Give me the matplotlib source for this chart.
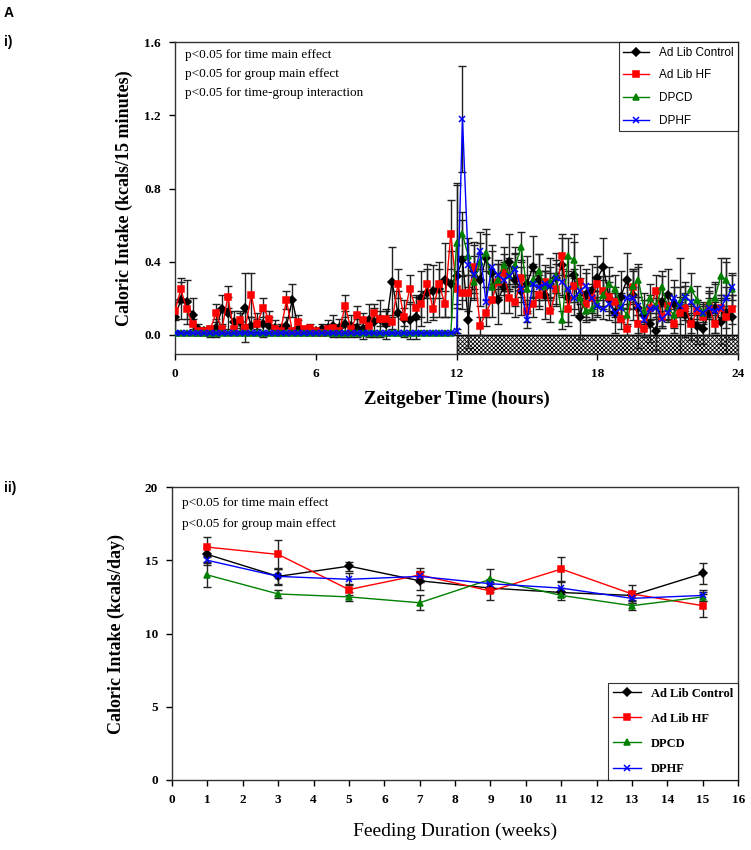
import matplotlib
matplotlib.use("Agg")
import matplotlib.pyplot as plt
from matplotlib.patches import Rectangle
import numpy as np

# ---- panel i: caloric intake per 15 min bin over 24 h ----
hours = np.arange(0, 24, 0.25)

ctrl = [0.10, 0.19, 0.18, 0.11, 0.03, 0.02, 0.02, 0.04,
        0.14, 0.12, 0.07, 0.07, 0.15, 0.05, 0.06, 0.06,
        0.05, 0.04, 0.03, 0.05, 0.19, 0.04, 0.02, 0.02,
        0.02, 0.03, 0.04, 0.05, 0.04, 0.06, 0.05, 0.04,
        0.03, 0.08, 0.07, 0.09, 0.06, 0.29, 0.12, 0.09,
        0.08, 0.10, 0.20, 0.23, 0.24, 0.25, 0.30, 0.28,
        0.32, 0.41, 0.08, 0.35, 0.30, 0.42, 0.34, 0.19,
        0.26, 0.40, 0.30, 0.24, 0.28, 0.37, 0.30, 0.22,
        0.28, 0.31, 0.38, 0.20, 0.33, 0.10, 0.22, 0.24,
        0.31, 0.37, 0.20, 0.12, 0.21, 0.30, 0.22, 0.15,
        0.11, 0.06, 0.02, 0.18, 0.22, 0.17, 0.14, 0.11,
        0.07, 0.05, 0.03, 0.12, 0.15, 0.07, 0.12, 0.10]
ctrl_err = [0.08, 0.10, 0.12, 0.09, 0.03, 0.02, 0.03, 0.05,
            0.08, 0.09, 0.06, 0.06, 0.19, 0.05, 0.06, 0.07,
            0.05, 0.04, 0.03, 0.05, 0.09, 0.04, 0.02, 0.02,
            0.02, 0.03, 0.04, 0.06, 0.05, 0.07, 0.06, 0.05,
            0.05, 0.09, 0.08, 0.10, 0.08, 0.19, 0.12, 0.10,
            0.10, 0.12, 0.15, 0.16, 0.14, 0.15, 0.20, 0.18,
            0.50, 0.22, 0.15, 0.16, 0.14, 0.16, 0.15, 0.13,
            0.14, 0.15, 0.14, 0.13, 0.15, 0.17, 0.14, 0.13,
            0.14, 0.14, 0.17, 0.15, 0.22, 0.12, 0.14, 0.15,
            0.12, 0.16, 0.12, 0.11, 0.14, 0.15, 0.14, 0.22,
            0.12, 0.10, 0.10, 0.14, 0.14, 0.13, 0.28, 0.12,
            0.10, 0.10, 0.08, 0.12, 0.14, 0.12, 0.30, 0.12]

hf = [0.13, 0.25, 0.14, 0.06, 0.02, 0.02, 0.03, 0.12,
      0.03, 0.21, 0.03, 0.08, 0.04, 0.22, 0.06, 0.15,
      0.09, 0.03, 0.02, 0.19, 0.02, 0.07, 0.03, 0.04,
      0.02, 0.01, 0.03, 0.04, 0.02, 0.16, 0.03, 0.11,
      0.08, 0.05, 0.12, 0.09, 0.09, 0.07, 0.28, 0.10,
      0.25, 0.15, 0.17, 0.28, 0.14, 0.28, 0.17, 0.55,
      0.25, 0.23, 0.23, 0.37, 0.05, 0.12, 0.19, 0.29,
      0.34, 0.20, 0.18, 0.31, 0.13, 0.17, 0.22, 0.29,
      0.13, 0.25, 0.43, 0.14, 0.27, 0.29, 0.17, 0.20,
      0.28, 0.24, 0.21, 0.18, 0.09, 0.03, 0.26, 0.06,
      0.03, 0.15, 0.24, 0.10, 0.16, 0.06, 0.12, 0.15,
      0.06, 0.13, 0.10, 0.16, 0.06, 0.15, 0.10, 0.14]
hf_err = [0.05, 0.06, 0.05, 0.03, 0.02, 0.02, 0.02, 0.05,
          0.02, 0.06, 0.02, 0.04, 0.02, 0.12, 0.03, 0.05,
          0.04, 0.02, 0.02, 0.05, 0.02, 0.04, 0.02, 0.02,
          0.02, 0.01, 0.02, 0.02, 0.02, 0.06, 0.02, 0.05,
          0.04, 0.03, 0.05, 0.04, 0.04, 0.04, 0.08, 0.05,
          0.08, 0.06, 0.07, 0.08, 0.06, 0.08, 0.07, 0.19,
          0.10, 0.09, 0.10, 0.12, 0.05, 0.07, 0.09, 0.10,
          0.10, 0.08, 0.08, 0.10, 0.06, 0.07, 0.08, 0.09,
          0.06, 0.09, 0.10, 0.07, 0.09, 0.09, 0.07, 0.08,
          0.09, 0.08, 0.08, 0.08, 0.06, 0.03, 0.09, 0.05,
          0.03, 0.07, 0.09, 0.06, 0.07, 0.05, 0.06, 0.07,
          0.05, 0.06, 0.06, 0.07, 0.05, 0.07, 0.06, 0.08]

# dark-phase fed groups: ~0 during the light phase
dpcd = [0.01] * 48 + [
    0.50, 0.55, 0.43, 0.29, 0.40, 0.45, 0.26, 0.30,
    0.38, 0.33, 0.38, 0.48, 0.25, 0.30, 0.35, 0.27,
    0.29, 0.32, 0.08, 0.43, 0.41, 0.20, 0.13, 0.14,
    0.17, 0.22, 0.28, 0.25, 0.16, 0.11, 0.27, 0.30,
    0.13, 0.20, 0.16, 0.26, 0.15, 0.11, 0.18, 0.21,
    0.25, 0.19, 0.12, 0.18, 0.20, 0.32, 0.30, 0.25]
dpcd_err = [0.005] * 48 + [
    0.33, 0.12, 0.10, 0.09, 0.10, 0.10, 0.08, 0.09,
    0.10, 0.09, 0.10, 0.08, 0.08, 0.09, 0.09, 0.08,
    0.08, 0.09, 0.05, 0.10, 0.10, 0.08, 0.06, 0.06,
    0.07, 0.08, 0.09, 0.08, 0.07, 0.06, 0.09, 0.09,
    0.06, 0.08, 0.07, 0.09, 0.07, 0.06, 0.08, 0.08,
    0.09, 0.08, 0.06, 0.08, 0.08, 0.10, 0.10, 0.09]

dphf = [0.01] * 48 + [
    0.02, 1.18, 0.38, 0.33, 0.46, 0.18, 0.37, 0.33,
    0.30, 0.32, 0.36, 0.25, 0.08, 0.28, 0.26, 0.28,
    0.27, 0.31, 0.29, 0.25, 0.20, 0.24, 0.27, 0.20,
    0.16, 0.14, 0.17, 0.12, 0.15, 0.20, 0.20, 0.16,
    0.08, 0.14, 0.15, 0.09, 0.12, 0.20, 0.16, 0.21,
    0.18, 0.14, 0.12, 0.15, 0.13, 0.15, 0.20, 0.26]
dphf_err = [0.005] * 48 + [
    0.01, 0.29, 0.12, 0.10, 0.10, 0.08, 0.09, 0.08,
    0.08, 0.08, 0.09, 0.07, 0.04, 0.07, 0.07, 0.07,
    0.07, 0.08, 0.07, 0.07, 0.06, 0.07, 0.07, 0.06,
    0.05, 0.05, 0.06, 0.05, 0.05, 0.06, 0.06, 0.05,
    0.04, 0.05, 0.05, 0.04, 0.05, 0.06, 0.05, 0.06,
    0.06, 0.05, 0.05, 0.05, 0.05, 0.05, 0.06, 0.07]

# ---- panel ii: daily intake over 15 weeks ----
weeks = [1, 3, 5, 7, 9, 11, 13, 15]
wk_ctrl = [15.4, 13.9, 14.6, 13.6, 13.1, 12.8, 12.6, 14.1]
wk_ctrl_err = [0.5, 0.6, 0.3, 0.6, 0.3, 0.3, 0.3, 0.7]
wk_hf = [15.9, 15.4, 13.0, 14.0, 12.9, 14.4, 12.7, 11.9]
wk_hf_err = [0.7, 1.0, 0.4, 0.5, 0.6, 0.8, 0.6, 0.8]
wk_dpcd = [14.0, 12.7, 12.5, 12.1, 13.7, 12.6, 11.9, 12.5]
wk_dpcd_err = [0.8, 0.3, 0.3, 0.5, 0.7, 0.3, 0.3, 0.3]
wk_dphf = [15.0, 13.9, 13.7, 13.9, 13.4, 13.1, 12.4, 12.6]
wk_dphf_err = [0.3, 0.5, 0.4, 0.4, 0.3, 0.4, 0.3, 0.4]

labels = ["Ad Lib Control", "Ad Lib HF", "DPCD", "DPHF"]
colors = ["#000000", "#FF0000", "#008000", "#0000FF"]
markers = ["D", "s", "^", "x"]
msizes = [4, 5, 5, 5]

serif = "Liberation Serif"
sans = "Liberation Sans"
plt.rcParams["hatch.linewidth"] = 0.6

fig = plt.figure(figsize=(7.51, 8.5), dpi=100)

# top panel
ax1 = fig.add_axes([0.233, 0.5835, 0.750, 0.367])
top_series = [(ctrl, ctrl_err), (hf, hf_err), (dpcd, dpcd_err), (dphf, dphf_err)]
for i, (vals, errs) in enumerate(top_series):
    ax1.errorbar(hours, vals, yerr=errs, fmt="none", ecolor="#222222",
                 elinewidth=1, capsize=3, capthick=1, zorder=2)
for i, (vals, errs) in enumerate(top_series):
    ax1.plot(hours, vals, color=colors[i], marker=markers[i], ms=msizes[i],
             mew=1.1, lw=1, label=labels[i], zorder=3 + i)

ax1.add_patch(Rectangle((12, -0.104), 12, 0.104, facecolor="white",
                        edgecolor="black", hatch="xxxxxxxx", lw=1, zorder=1))
ax1.axhline(0, color="black", lw=1, zorder=1)
ax1.set_xlim(0, 24)
ax1.set_ylim(-0.104, 1.6)
ax1.set_xticks([0, 6, 12, 18, 24])
ax1.set_yticks([0.0, 0.4, 0.8, 1.2, 1.6])
ax1.set_yticklabels(["0.0", "0.4", "0.8", "1.2", "1.6"])
ax1.set_xlabel("Zeitgeber Time (hours)", fontfamily=serif, fontsize=13.5,
               fontweight="bold", labelpad=8)
ax1.set_ylabel("Caloric Intake (kcals/15 minutes)", fontfamily=serif,
               fontsize=13, fontweight="bold", labelpad=8)
ax1.text(0.018, 0.958, "p<0.05 for time main effect", transform=ax1.transAxes,
         fontfamily=serif, fontsize=9.5, va="center")
ax1.text(0.018, 0.897, "p<0.05 for group main effect", transform=ax1.transAxes,
         fontfamily=serif, fontsize=9.5, va="center")
ax1.text(0.018, 0.837, "p<0.05 for time-group interaction", transform=ax1.transAxes,
         fontfamily=serif, fontsize=9.5, va="center")
leg1 = ax1.legend(loc="upper right", borderaxespad=0, fancybox=False,
                  edgecolor="black", prop={"family": sans, "size": 8.5},
                  handlelength=2.2, labelspacing=0.9)
leg1.get_frame().set_linewidth(0.8)

# bottom panel
ax2 = fig.add_axes([0.229, 0.0824, 0.754, 0.3446])
bottom_series = [(wk_ctrl, wk_ctrl_err), (wk_hf, wk_hf_err),
                 (wk_dpcd, wk_dpcd_err), (wk_dphf, wk_dphf_err)]
for i, (vals, errs) in enumerate(bottom_series):
    ax2.errorbar(weeks, vals, yerr=errs, fmt="none", ecolor="#222222",
                 elinewidth=1, capsize=3, capthick=1, zorder=2)
for i, (vals, errs) in enumerate(bottom_series):
    ax2.plot(weeks, vals, color=colors[i], marker=markers[i], ms=msizes[i],
             mew=1.1, lw=1, label=labels[i], zorder=3 + i)

ax2.set_xlim(0, 16)
ax2.set_ylim(0, 20)
ax2.set_xticks(range(0, 17))
ax2.set_yticks([0, 5, 10, 15, 20])
ax2.set_xlabel("Feeding Duration (weeks)", fontfamily=serif, fontsize=14,
               labelpad=12)
ax2.set_ylabel("Caloric Intake (kcals/day)", fontfamily=serif, fontsize=13,
               fontweight="bold", labelpad=14)
ax2.text(0.018, 0.945, "p<0.05 for time main effect", transform=ax2.transAxes,
         fontfamily=serif, fontsize=9.5, va="center")
ax2.text(0.018, 0.875, "p<0.05 for group main effect", transform=ax2.transAxes,
         fontfamily=serif, fontsize=9.5, va="center")
leg2 = ax2.legend(loc="lower right", borderaxespad=0, fancybox=False,
                  edgecolor="black",
                  prop={"family": serif, "size": 9, "weight": "bold"},
                  handlelength=2.2, labelspacing=1.05)
leg2.get_frame().set_linewidth(0.8)

for ax in (ax1, ax2):
    ax.tick_params(direction="out", length=4, width=1, labelsize=9.5, pad=6)
    for lab in ax.get_xticklabels() + ax.get_yticklabels():
        lab.set_fontfamily(serif)
        lab.set_fontweight("bold")
    for sp in ax.spines.values():
        sp.set_linewidth(1)
        sp.set_color("#333333")

fig.text(0.005, 0.985, "A", fontfamily=sans, fontsize=10, fontweight="bold", va="center")
fig.text(0.005, 0.951, "i)", fontfamily=sans, fontsize=10, fontweight="bold", va="center")
fig.text(0.005, 0.426, "ii)", fontfamily=sans, fontsize=10, fontweight="bold", va="center")

fig.savefig("out.png", dpi=100)
